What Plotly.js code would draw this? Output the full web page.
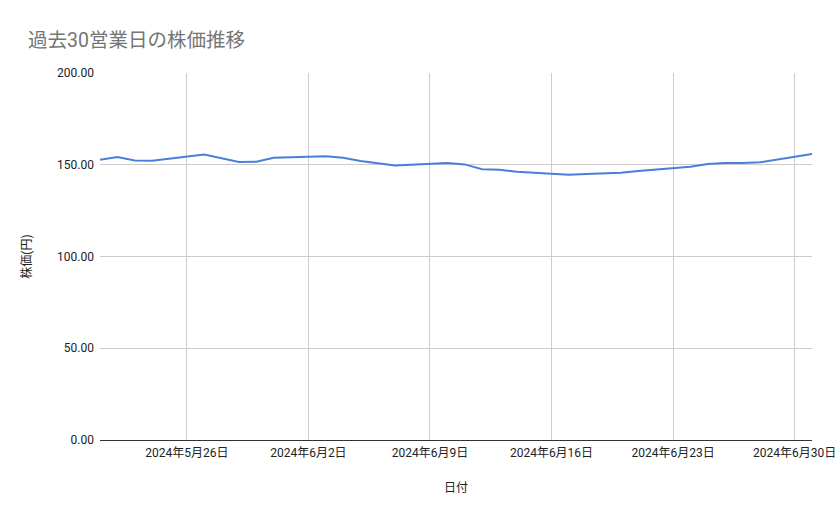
<!DOCTYPE html>
<html>
<head>
<meta charset="utf-8">
<script src="https://cdn.plot.ly/plotly-3.0.1.min.js"></script>
<style>
  html, body { margin: 0; padding: 0; background: #fff; }
  #chart { width: 839px; height: 519px; }
</style>
</head>
<body>
<div id="chart"></div>
<script>
"use strict"
// 営業日と終値
let dates = [
    "2024-05-21", "2024-05-22", "2024-05-23", "2024-05-24",
    "2024-05-27", "2024-05-28", "2024-05-29", "2024-05-30", "2024-05-31",
    "2024-06-03", "2024-06-04", "2024-06-05", "2024-06-06", "2024-06-07",
    "2024-06-10", "2024-06-11", "2024-06-12", "2024-06-13", "2024-06-14",
    "2024-06-17", "2024-06-18", "2024-06-19", "2024-06-20", "2024-06-21",
    "2024-06-24", "2024-06-25", "2024-06-26", "2024-06-27", "2024-06-28",
    "2024-07-01"
];
let prices = [
    152.7, 154.2, 152.3, 152.2,
    155.6, 153.6, 151.5, 151.7, 153.8,
    154.7, 153.8, 152.0, 151.0, 149.6,
    150.9, 150.2, 147.6, 147.3, 146.2,
    144.5, 145.0, 145.2, 145.6, 146.6,
    148.9, 150.4, 150.9, 150.9, 151.3,
    155.8
];
let tick_dates = ["2024-05-26", "2024-06-02", "2024-06-09", "2024-06-16", "2024-06-23", "2024-06-30"];
let tick_labels = ["2024年5月26日", "2024年6月2日", "2024年6月9日", "2024年6月16日", "2024年6月23日", "2024年6月30日"];
let y_ticks = [0, 50, 100, 150, 200];

let font_family = "Roboto, 'Noto Sans CJK JP', sans-serif";

let data = [{
    x: dates,
    y: prices,
    type: 'scatter',
    mode: 'lines',
    line: { color: '#4a7fd9', width: 2 },
    hoverinfo: 'skip'
}];

let layout = {
    width: 839,
    height: 519,
    margin: { l: 100, r: 27, t: 73, b: 79 },
    paper_bgcolor: '#ffffff',
    plot_bgcolor: '#ffffff',
    showlegend: false,
    font: { family: font_family, color: '#222222', size: 12 },
    title: {
        text: '過去30営業日の株価推移',
        font: { family: font_family, size: 19.5, color: '#757575' },
        x: 28 / 839, xanchor: 'left', xref: 'container',
        y: 1 - 40 / 519, yanchor: 'middle', yref: 'container'
    },
    xaxis: {
        type: 'date',
        range: ['2024-05-21', '2024-07-01'],
        tickvals: tick_dates,
        ticktext: tick_labels,
        showgrid: true,
        gridcolor: '#cccccc',
        gridwidth: 1,
        zeroline: false,
        showline: false,
        ticks: '',
        ticklabelstandoff: 4,
        tickfont: { size: 12, color: '#222222' },
        title: { text: '日付', font: { size: 12, color: '#222222' }, standoff: 24 }
    },
    yaxis: {
        range: [0, 200],
        tickvals: y_ticks,
        tickformat: '.2f',
        showgrid: true,
        gridcolor: '#cccccc',
        gridwidth: 1,
        zeroline: true,
        zerolinecolor: '#333333',
        zerolinewidth: 1,
        showline: false,
        ticks: '',
        ticklabelstandoff: 5,
        tickfont: { size: 12, color: '#222222' },
        title: { text: '株価(円)', font: { size: 12, color: '#222222' }, standoff: 22 }
    }
};

Plotly.newPlot('chart', data, layout, { displayModeBar: false, staticPlot: true });
</script>
</body>
</html>
